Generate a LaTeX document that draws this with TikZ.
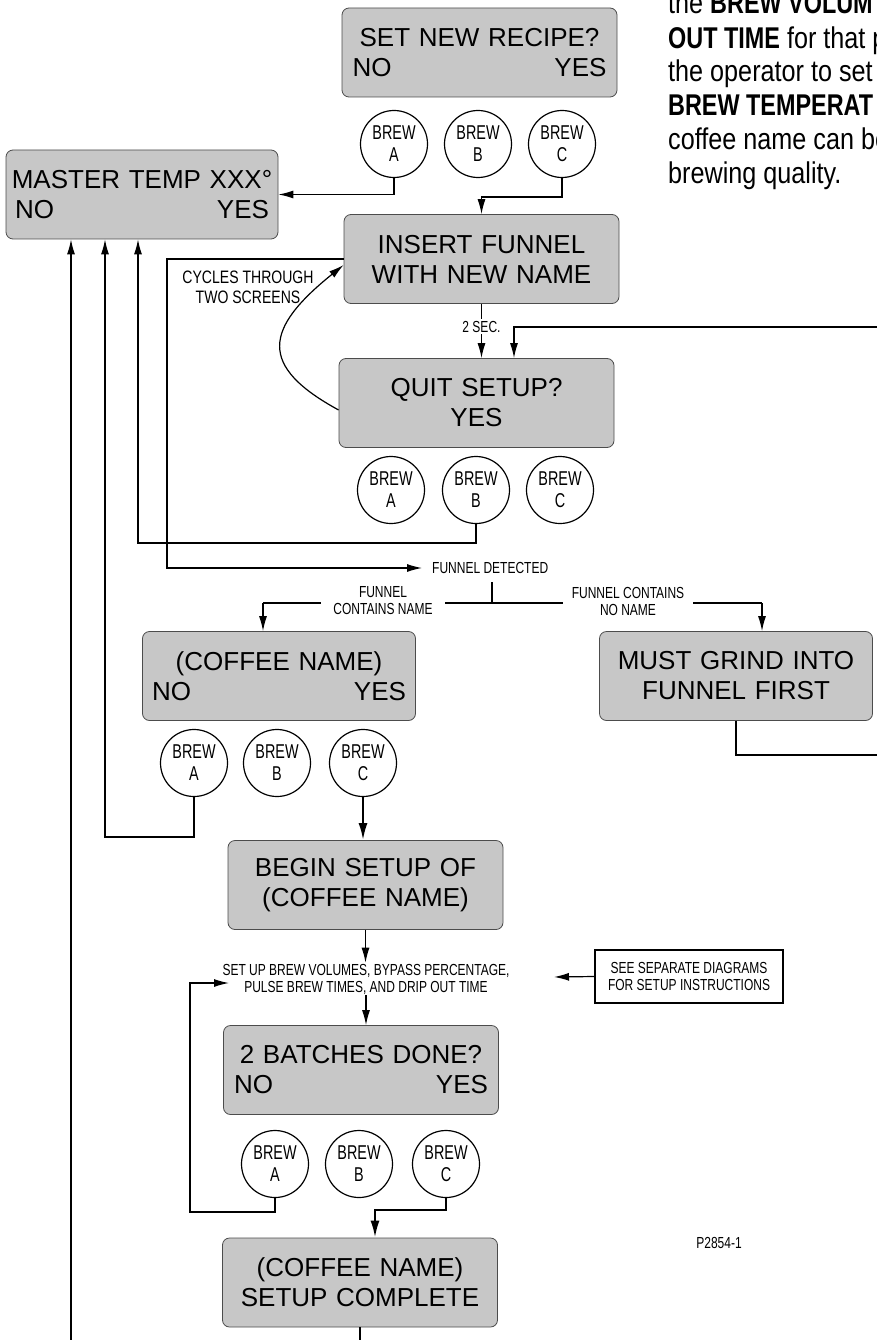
\documentclass[tikz,border=0pt]{standalone}
\usepackage{fontspec}
\setmainfont{Liberation Sans}
\newfontfamily\condf[FakeStretch=0.75]{Liberation Sans}
\newfontfamily\cyclf[FakeStretch=0.78]{Liberation Sans}
\newfontfamily\circf[FakeStretch=0.72]{Liberation Sans}
\newfontfamily\parf[FakeStretch=0.84]{Liberation Sans}
\newfontfamily\parb[FakeStretch=0.78]{Liberation Sans}
\usetikzlibrary{arrows.meta,calc}
\begin{document}
\begin{tikzpicture}[x=1pt,y=-1pt,
  box/.style={draw=black!70, line width=0.8pt, fill=black!22, rounded corners=7pt,
    minimum width=275pt, minimum height=89pt, inner sep=0pt, text width=266pt,
    align=center, font=\fontsize{26}{30}\selectfont},
  btn/.style={circle, draw, line width=1.2pt, minimum size=67pt, inner sep=0pt,
    align=center, font=\circf\fontsize{20}{22}\selectfont},
  lbl/.style={font=\condf\fontsize{16}{17}\selectfont, align=center, inner sep=1pt},
  para/.style={anchor=base west, inner sep=0pt, font=\parf\fontsize{30}{34}\selectfont},
  ln/.style={line width=1.2pt},
  arr/.style={line width=1.2pt, -{Latex[length=15pt,width=8pt]}},
  tarr/.style={line width=2.2pt, -{Latex[length=17pt,width=9pt]}},
]
\useasboundingbox (0,0) rectangle (877,1340);

% top-right paragraph
\node[para] (p1) at (668,14) {the {\parb\bfseries BREW VOLUM}};
\node[para] (p2) at (668,48.5) {{\parb\bfseries OUT TIME} for that p};
\node[para] (p3) at (668,82) {the operator to set};
\node[para] (p4) at (668,116) {{\parb\bfseries BREW TEMPERAT}};
\node[para] (p5) at (668,150) {coffee name can be};
\node[para] (p6) at (668,184) {brewing quality.};

% display boxes
\node[box] (recipe) at (479.5,52.5) {SET NEW RECIPE?\\\makebox[254pt]{NO\hfill YES}};
\node[box, minimum width=272pt] (master) at (142,194.5) {MASTER TEMP XXX°\\\makebox[254pt]{NO\hfill YES}};
\node[box] (insert) at (481.5,259) {INSERT FUNNEL\\WITH NEW NAME};
\node[box] (quit) at (476.5,403) {QUIT SETUP?\\YES};
\node[box, minimum width=273pt] (coffee) at (279,676) {(COFFEE NAME)\\\makebox[254pt]{NO\hfill YES}};
\node[box, minimum width=273pt] (grind) at (736,676) {MUST GRIND INTO\\FUNNEL FIRST};
\node[box] (begin) at (365.5,885) {BEGIN SETUP OF\\(COFFEE NAME)};
\node[box] (batches) at (361,1070) {2 BATCHES DONE?\\\makebox[254pt]{NO\hfill YES}};
\node[box] (complete) at (360,1282.5) {(COFFEE NAME)\\SETUP COMPLETE};

% brew buttons
\node[btn] (r1a) at (394,144) {BREW\\A};
\node[btn] (r1b) at (478,144) {BREW\\B};
\node[btn] (r1c) at (562,144) {BREW\\C};
\node[btn] (r2a) at (391,490) {BREW\\A};
\node[btn] (r2b) at (476,490) {BREW\\B};
\node[btn] (r2c) at (560,490) {BREW\\C};
\node[btn] (r3a) at (194,763) {BREW\\A};
\node[btn] (r3b) at (277,763) {BREW\\B};
\node[btn] (r3c) at (363,763) {BREW\\C};
\node[btn] (r4a) at (275,1164) {BREW\\A};
\node[btn] (r4b) at (359,1164) {BREW\\B};
\node[btn] (r4c) at (446,1164) {BREW\\C};

% labels
\node[font=\cyclf\fontsize{18}{20}\selectfont, align=center, inner sep=1pt] (cyc) at (248,287) {CYCLES THROUGH\\TWO SCREENS};
\node[lbl, anchor=west] (fd) at (431,568) {FUNNEL DETECTED};
\node[lbl] (setup) at (366,979) {SET UP BREW VOLUMES, BYPASS PERCENTAGE,\\PULSE BREW TIMES, AND DRIP OUT TIME};
\node[lbl, draw, line width=1.2pt, minimum width=188pt, minimum height=53pt] (see) at (689,976.5) {SEE SEPARATE DIAGRAMS\\FOR SETUP INSTRUCTIONS};
\node[lbl] (pnum) at (719,1243) {P2854-1};

% coordinates
\coordinate (yA) at (0,197);
\coordinate (fdL) at (167,568);
\coordinate (rc1) at (900,755);
\coordinate (rq) at (514,327);
\coordinate (g1) at (138,543);
\coordinate (bl) at (263,603);
\coordinate (brr) at (762,603);
\coordinate (bmid) at (492,603);
\coordinate (i1) at (105,837);
\coordinate (n1) at (190,1212);
\coordinate (n2) at (229,983);
\coordinate (o1) at (375,1210);
\coordinate (q1) at (71,1365);
\coordinate (seetip) at (554,977);

% connectors
\draw[arr] (r1a.south) |- (master.east);
\draw[arr] (r1c.south) |- (insert.north |- yA) -- (insert.north);
\draw[arr] (insert.west) -| (fdL) -- ([xshift=-9pt]fd.west);
\draw[arr] (quit.west |- 0,410) .. controls (258,366) and (264,329) .. (insert.west |- 0,265);
\draw[arr] (insert.south) -- (insert.south |- quit.north)
  node[lbl, pos=0.42, fill=white, inner ysep=2pt] (sec) {2 SEC.};
\draw[arr] (grind.south) |- (rc1) |- (rq) -- (rq |- quit.north);
\draw[arr] (r2b.south) |- (g1) -- (g1 |- master.south);
\draw[ln] (bmid |- 0,582) -- (bmid);
\draw[ln] (bl) -- (brr);
\node[lbl, fill=white, inner xsep=12pt] (fcn) at (383,601) {FUNNEL\\CONTAINS NAME};
\node[lbl, fill=white, inner xsep=9pt] (fnn) at (628,601) {FUNNEL CONTAINS\\NO NAME};
\draw[arr] (bl) -- (bl |- coffee.north);
\draw[arr] (brr) -- (brr |- grind.north);
\draw[arr] (r3a.south) |- (i1) -- (i1 |- master.south);
\draw[tarr] (r3c.south) -- (r3c.south |- begin.north);
\draw[arr] (begin.south) -- (begin.south |- setup.north);
\draw[arr] (setup.south) -- (setup.south |- batches.north);
\draw[arr] (see.west) -- (seetip);
\draw[arr] (r4a.south) |- (n1) |- (n2);
\draw[tarr] (r4c.south) |- (o1) -- (o1 |- complete.north);
\draw[arr] (complete.south) |- (q1) -- (q1 |- master.south);
\end{tikzpicture}
\end{document}
